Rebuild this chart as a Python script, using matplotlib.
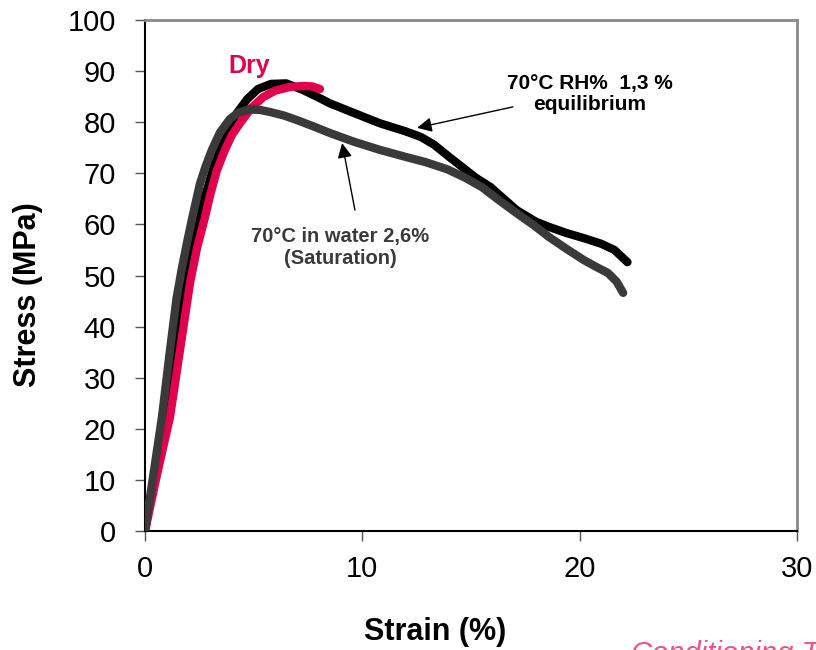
import matplotlib.pyplot as plt

plt.rcParams["font.family"] = ["Liberation Sans", "DejaVu Sans"]

# (strain in %, stress in MPa)
dry_strain = [0, 0.55, 1.15, 1.61, 2.07, 2.4, 2.76, 3.0, 3.3, 3.68, 4.0, 4.37, 4.9,
              5.43, 6.0, 6.67, 7.3, 7.7, 8.05]
dry_stress = [0, 11, 22.3, 35.4, 48.5, 55.5, 61.4, 65.8, 70.5, 74.6, 77.5, 79.8, 82.8,
              84.9, 86.2, 86.9, 87.1, 87.0, 86.5]

rh_strain = [0, 0.45, 0.92, 1.38, 1.75, 2.1, 2.44, 2.85, 3.36, 3.8, 4.23, 4.7, 5.2,
             5.8, 6.5, 7.27, 8.0, 8.5, 9.5, 10.8, 12.0, 12.7, 13.3, 14.0, 14.6, 15.2,
             15.9, 17.1, 18.0, 18.6, 19.4, 20.2, 21.0, 21.6, 22.2]
rh_stress = [0, 11, 22.3, 35.4, 48.5, 55.5, 61.4, 66.7, 74.0, 78.8, 81.8, 84.5, 86.5,
             87.5, 87.6, 86.3, 84.8, 83.7, 82.0, 79.8, 78.2, 77.1, 75.6, 73.2, 71.2, 69.2,
             67.3, 62.8, 60.5, 59.5, 58.3, 57.3, 56.2, 55.0, 52.6]

water_strain = [0, 0.35, 0.78, 1.15, 1.45, 1.7, 1.95, 2.2, 2.53, 2.8, 3.08, 3.45, 3.9,
                4.3, 4.8, 5.3, 5.75, 6.4, 7.0, 7.8, 8.5, 9.6, 10.8, 12.0, 12.9, 13.9,
                14.7, 15.5, 16.3, 17.1, 17.9, 18.6, 19.4, 20.2, 20.8, 21.3, 21.7, 22.0]
water_stress = [0, 10, 22.3, 35.4, 45.5, 51.5, 56.8, 61.8, 68.0, 71.5, 74.6, 78.0, 80.6,
                81.9, 82.5, 82.4, 82.0, 81.3, 80.4, 79.1, 77.9, 76.2, 74.6, 73.2, 72.2, 70.8,
                69.2, 67.3, 64.7, 62.2, 59.8, 57.5, 55.2, 53.0, 51.6, 50.5, 48.8, 46.6]

x_ticks = [0, 10, 20, 30]
y_ticks = list(range(0, 101, 10))

RED = "#E0004B"
DARK = "#3A3A3C"

fig = plt.figure(figsize=(8.16, 6.5), dpi=100)
ax = fig.add_axes([0.1777, 0.1831, 0.799, 0.7861])

line_kw = dict(lw=6, solid_capstyle="round", solid_joinstyle="round")
ax.plot(rh_strain, rh_stress, color="black", zorder=2, **line_kw)
ax.plot(dry_strain, dry_stress, color=RED, zorder=3, **line_kw)
ax.plot(water_strain, water_stress, color=DARK, zorder=4, **line_kw)

ax.set_xlim(0, 30)
ax.set_ylim(0, 100)
ax.set_xticks(x_ticks)
ax.set_yticks(y_ticks)
ax.tick_params(axis="both", direction="out", length=7, width=1, labelsize=21, color="#555555")
ax.tick_params(axis="y", pad=14)
ax.tick_params(axis="x", pad=10)

for side in ["top", "right"]:
    ax.spines[side].set_color("#8a8a8a")
    ax.spines[side].set_linewidth(2)
for side in ["left", "bottom"]:
    ax.spines[side].set_color("black")
    ax.spines[side].set_linewidth(1.5)

ax.set_xlabel("Strain (%)", fontsize=22, fontweight="bold")
ax.xaxis.set_label_coords(0.445, -0.168)
ax.xaxis.label.set_va("top")
ax.set_ylabel("Stress (MPa)", fontsize=22, fontweight="bold")
ax.yaxis.set_label_coords(-0.179, 0.462)
ax.yaxis.label.set_va("center")

ax.text(4.79, 91.0, "Dry", color=RED, fontsize=18, fontweight="bold", ha="center", va="center")
ax.text(20.48, 85.5, "70°C RH%  1,3 %\nequilibrium", color="black", fontsize=15,
        fontweight="bold", ha="center", va="center", linespacing=1.15)
ax.text(8.97, 55.5, "70°C in water 2,6%\n(Saturation)", color=DARK, fontsize=14.5,
        fontweight="bold", ha="center", va="center", linespacing=1.15)

arrow = dict(arrowstyle="-|>", color="black", lw=1, mutation_scale=22, shrinkA=0, shrinkB=0)
ax.annotate("", xy=(12.52, 78.9), xytext=(16.93, 83.0), arrowprops=arrow, zorder=6)
ax.annotate("", xy=(9.07, 75.9), xytext=(9.66, 62.8), arrowprops=arrow, zorder=6)

# slide footer text, cut off by the bottom edge as in the source
fig.text(0.773, 0.016, "Conditioning T", color="#F0508A", fontsize=21, style="italic",
         ha="left", va="top")

fig.savefig("out.png", dpi=100)
